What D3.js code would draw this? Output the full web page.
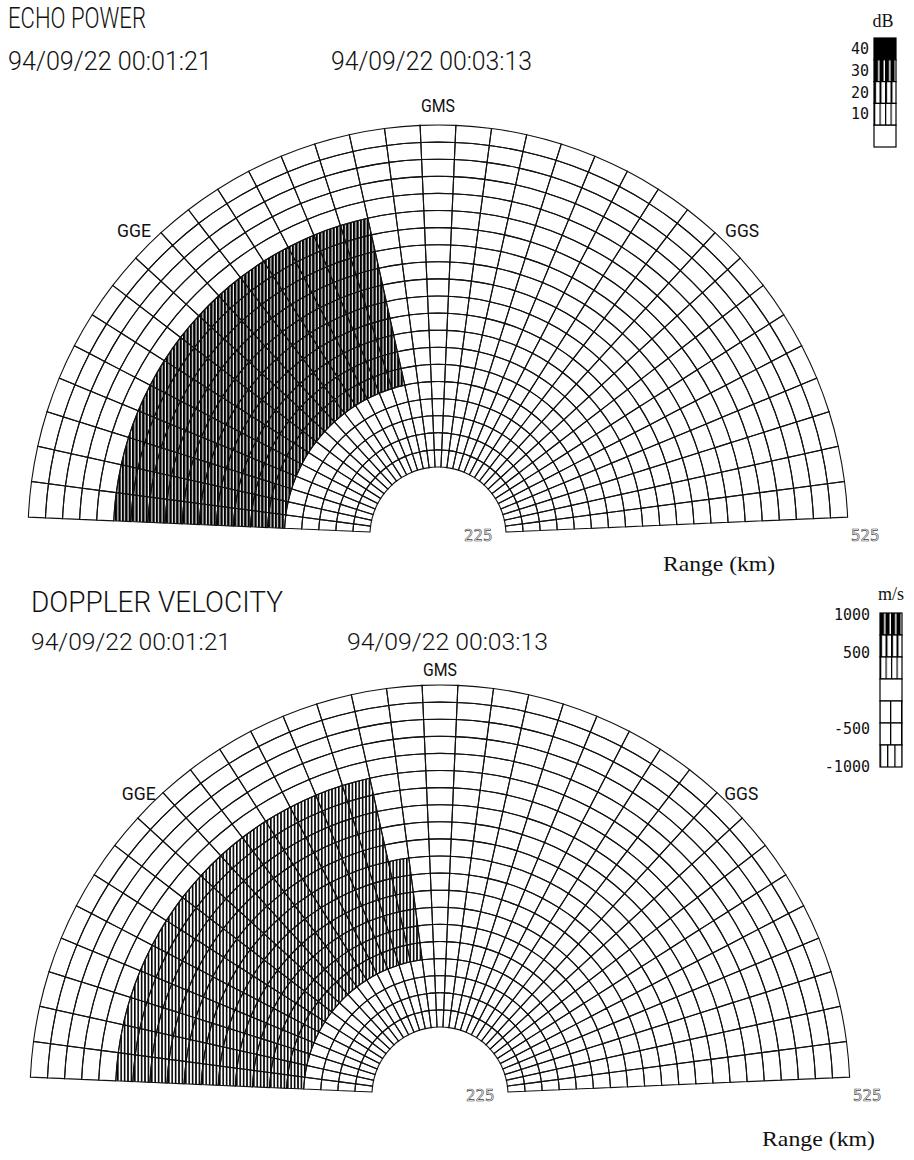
<!DOCTYPE html>
<html>
<head>
<meta charset="utf-8">
<script src="https://cdn.jsdelivr.net/npm/d3@7/dist/d3.min.js"></script>
<style>
  body { margin: 0; background: #fff; }
  text { fill: #111; }
</style>
</head>
<body>
<script>
// range gate edges (km) and beam edges (deg from the right-hand baseline)
var rangeEdges = [225, 240, 255, 270, 285, 300, 315, 330, 345, 360, 375,
                  390, 405, 420, 435, 450, 465, 480, 495, 510, 525];
var beamEdges = [177.5, 172.5, 167.5, 162.5, 157.5, 152.5, 147.5, 142.5, 137.5,
                 132.5, 127.5, 122.5, 117.5, 112.5, 107.5, 102.5, 97.5, 92.5,
                 87.5, 82.5, 77.5, 72.5, 67.5, 62.5, 57.5, 52.5, 47.5, 42.5,
                 37.5, 32.5, 27.5, 22.5, 17.5, 12.5, 7.5, 2.5];
var rangeTicks = [225, 525];
var dirNames = ["GGE", "GMS", "GGS"];
var dirAngles = [135, 90, 45];

// echo power, beams counted from the GGE side
var powerBeams      = [1, 2, 3, 4, 5, 6, 7, 8, 9, 10, 11, 12, 13, 14, 15];
var powerFirstGate  = [6, 6, 6, 6, 6, 6, 6, 6, 6, 6, 6, 6, 6, 6, 6];
var powerLastGate   = [15, 15, 15, 15, 15, 15, 15, 15, 15, 15, 15, 15, 15, 15, 15];
var powerDb         = [30, 30, 30, 30, 30, 30, 30, 30, 30, 30, 30, 30, 30, 30, 30];

// doppler velocity, beams counted from the GGE side
var velBeams     = [1, 2, 3, 4, 5, 6, 7, 8, 9, 10, 11, 12, 13, 14, 15, 16];
var velFirstGate = [5, 5, 5, 5, 5, 5, 5, 5, 5, 5, 5, 5, 5, 5, 5, 5];
var velLastGate  = [15, 15, 15, 15, 15, 15, 15, 15, 15, 15, 15, 15, 15, 15, 15, 10];
var velMs        = [600, 600, 600, 600, 600, 600, 600, 600, 600, 600, 600, 600, 600, 600, 600, 600];

// legends
var dbLevels = [40, 30, 20, 10, 0];
var dbTicks = [40, 30, 20, 10];
var velLevels = [1000, 750, 500, 0, -250, -500, -1000];
var velTicks = [1000, 500, -500, -1000];

var width = 914, height = 1160;
var svg = d3.select("body").append("svg")
    .attr("width", width)
    .attr("height", height);

var narrow = "'Roboto','Liberation Sans',sans-serif";
var serif = "'Liberation Serif','DejaVu Serif',serif";
var mono = "'DejaVu Sans Mono','Liberation Mono',monospace";

// hatch patterns
var defs = svg.append("defs");
function stripes(id, period, bar, bg, fg, x0) {
    var p = defs.append("pattern").attr("id", id)
        .attr("patternUnits", "userSpaceOnUse")
        .attr("x", x0 || 0).attr("y", 0)
        .attr("width", period).attr("height", 20);
    p.append("rect").attr("width", period).attr("height", 20).attr("fill", bg);
    p.append("rect").attr("x", 0).attr("width", bar).attr("height", 20).attr("fill", fg);
}
stripes("fanPower", 3.4, 2.3, "#fff", "#000");
stripes("fanVel", 3.4, 1.6, "#fff", "#000");

var rScale = d3.scaleLinear().domain([225, 525]).range([68, 410]);
var aScale = d3.scaleLinear().domain([0, 180]).range([Math.PI / 2, -Math.PI / 2]);

function drawFan(cx, cy, beams, firstGate, lastGate, values, fillFor, dirGap) {
    var cells = [];
    for (var i = 0; i < beamEdges.length - 1; i++) {
        for (var j = 0; j < rangeEdges.length - 1; j++) {
            var v = null;
            var k = beams.indexOf(i + 1);
            if (k >= 0 && j + 1 >= firstGate[k] && j + 1 <= lastGate[k]) v = values[k];
            cells.push({a0: beamEdges[i], a1: beamEdges[i + 1],
                        r0: rangeEdges[j], r1: rangeEdges[j + 1], v: v});
        }
    }
    var arc = d3.arc()
        .innerRadius(function (d) { return rScale(d.r0); })
        .outerRadius(function (d) { return rScale(d.r1); })
        .startAngle(function (d) { return aScale(d.a0); })
        .endAngle(function (d) { return aScale(d.a1); });

    var g = svg.append("g").attr("transform", "translate(" + cx + "," + cy + ")");
    g.selectAll("path.fill").data(cells).enter().append("path")
        .attr("class", "fill")
        .attr("d", arc)
        .attr("fill", function (d) { return d.v === null ? "#fff" : fillFor(d.v); });
    g.selectAll("path.edge").data(cells).enter().append("path")
        .attr("class", "edge")
        .attr("d", arc)
        .attr("fill", "none")
        .attr("stroke", "#111")
        .attr("stroke-width", 1.1);

    // direction labels
    g.selectAll("text.dir").data(dirNames).enter().append("text")
        .attr("class", "dir")
        .attr("x", function (d, i) { return Math.cos(dirAngles[i] * Math.PI / 180) * (rScale(525) + dirGap); })
        .attr("y", function (d, i) { return -Math.sin(dirAngles[i] * Math.PI / 180) * (rScale(525) + dirGap); })
        .attr("text-anchor", "middle")
        .attr("dominant-baseline", "central")
        .attr("font-family", narrow)
        .attr("font-size", 19)
        .attr("textLength", 34)
        .attr("lengthAdjust", "spacingAndGlyphs")
        .text(function (d) { return d; });

    // range labels on the right baseline
    g.selectAll("text.rng").data(rangeTicks).enter().append("text")
        .attr("class", "rng")
        .attr("x", function (d, i) { return i === 0 ? rScale(d) - 42 : rScale(d) + 3; })
        .attr("y", 6)
        .attr("font-family", "'DejaVu Sans','Liberation Sans',sans-serif")
        .attr("font-size", 15)
        .style("fill", "#fff")
        .attr("stroke", "#444")
        .attr("stroke-width", 0.6)
        .text(function (d) { return d; });
    return g;
}

function powerFill(v) { return "url(#fanPower)"; }
function velFill(v) { return "url(#fanVel)"; }

drawFan(438, 535, powerBeams, powerFirstGate, powerLastGate, powerDb, powerFill, 20);
drawFan(440, 1095, velBeams, velFirstGate, velLastGate, velMs, velFill, 16);

// titles
function label(txt, x, y, size, len, fam, weight) {
    svg.append("text").attr("x", x).attr("y", y)
        .attr("font-family", fam || narrow)
        .attr("font-weight", weight || 300)
        .attr("font-size", size)
        .attr("textLength", len)
        .attr("lengthAdjust", "spacingAndGlyphs")
        .text(txt);
}
label("ECHO POWER", 8, 28, 30, 138);
label("94/09/22 00:01:21", 8, 70, 26, 204);
label("94/09/22 00:03:13", 331, 70, 26, 201);
label("Range (km)", 663, 571, 21, 112, serif, 400);

label("DOPPLER VELOCITY", 31, 612, 30, 252);
label("94/09/22 00:01:21", 31, 650, 24, 200);
label("94/09/22 00:03:13", 347, 650, 24, 201);
label("Range (km)", 762, 1146, 21, 113, serif, 400);

// legend helpers
function legendPatterns(prefix, x0) {
    stripes(prefix + "dense", 5.5, 4.1, "#fff", "#000", x0);
    stripes(prefix + "thick", 5.5, 2.0, "#fff", "#000", x0);
    stripes(prefix + "thin", 5.5, 1.2, "#fff", "#000", x0);
    stripes(prefix + "one", 11, 1.3, "#fff", "#000", x0 + 10);
    stripes(prefix + "two", 7.3, 1.3, "#fff", "#000", x0 + 7);
}

// dB legend
var dbX = 874, dbW = 22;
legendPatterns("db", dbX);
var dbFills = ["#000", "url(#dbdense)", "url(#dbthick)", "url(#dbthin)", "#fff"];
var dbBand = d3.scaleBand().domain(dbLevels).range([38, 147]);
var dbG = svg.append("g");
dbG.selectAll("rect").data(dbLevels).enter().append("rect")
    .attr("x", dbX).attr("width", dbW)
    .attr("y", function (d) { return dbBand(d); })
    .attr("height", dbBand.bandwidth())
    .attr("fill", function (d, i) { return dbFills[i]; })
    .attr("stroke", "#000").attr("stroke-width", 1.2);
dbG.selectAll("text").data(dbTicks).enter().append("text")
    .attr("x", dbX - 5)
    .attr("y", function (d) { return dbBand(d) + dbBand.bandwidth() / 2; })
    .attr("text-anchor", "end")
    .attr("dominant-baseline", "central")
    .attr("font-family", mono)
    .attr("font-size", 15)
    .text(function (d) { return d; });
svg.append("text").attr("x", dbX + dbW / 2 - 2).attr("y", 27)
    .attr("text-anchor", "middle")
    .attr("font-family", serif).attr("font-size", 18)
    .text("dB");

// m/s legend
var vX = 880, vW = 22;
legendPatterns("v", vX);
var vFills = ["url(#vdense)", "url(#vthick)", "url(#vthin)", "#fff", "url(#vone)", "url(#vone)", "url(#vtwo)"];
var vBand = d3.scaleBand().domain(velLevels).range([613, 767]);
var vScale = d3.scaleLinear().domain([1000, -1000]).range([615, 767]);
var vG = svg.append("g");
vG.selectAll("rect").data(velLevels).enter().append("rect")
    .attr("x", vX).attr("width", vW)
    .attr("y", function (d) { return vBand(d); })
    .attr("height", vBand.bandwidth())
    .attr("fill", function (d, i) { return vFills[i]; })
    .attr("stroke", "#000").attr("stroke-width", 1.2);
vG.selectAll("text").data(velTicks).enter().append("text")
    .attr("x", vX - 10)
    .attr("y", function (d) { return vScale(d); })
    .attr("text-anchor", "end")
    .attr("dominant-baseline", "central")
    .attr("font-family", mono)
    .attr("font-size", 15)
    .text(function (d) { return d; });
svg.append("text").attr("x", vX + vW / 2).attr("y", 600)
    .attr("text-anchor", "middle")
    .attr("font-family", serif).attr("font-size", 18)
    .text("m/s");
</script>
</body>
</html>
